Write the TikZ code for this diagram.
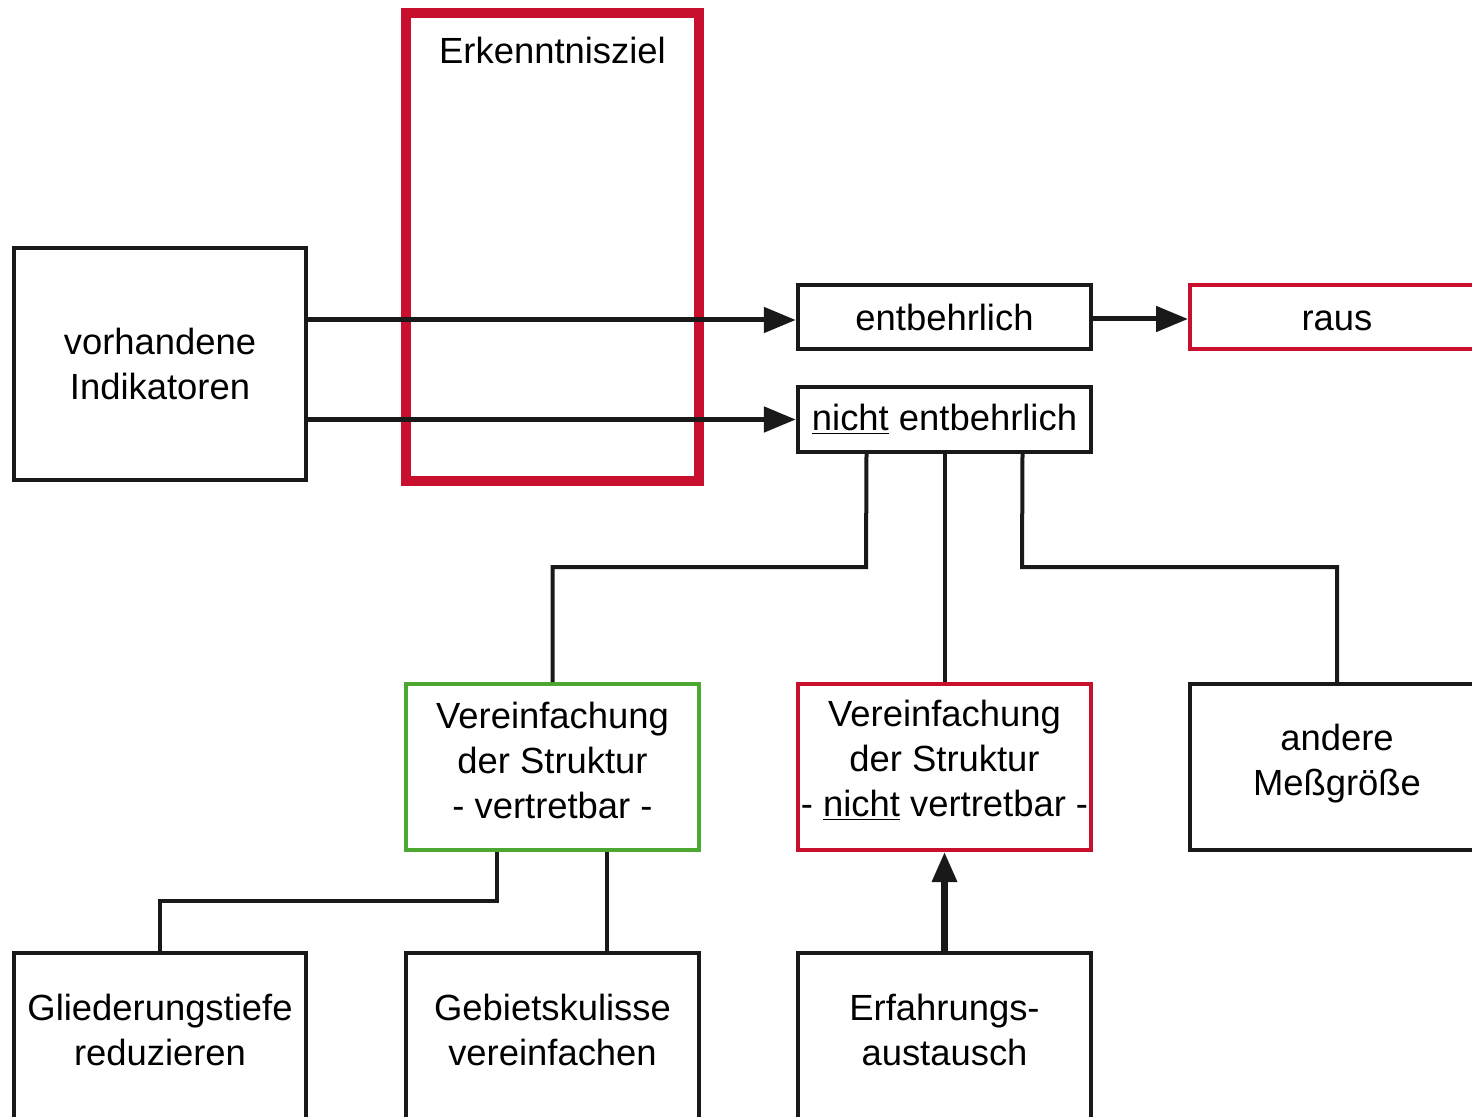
\documentclass[tikz,border=0pt]{standalone}
\usepackage{fontspec}
\setmainfont{Liberation Sans}
\usetikzlibrary{arrows.meta}
\definecolor{myred}{RGB}{200,16,46}
\definecolor{mygreen}{RGB}{76,168,50}
\tikzset{
  every node/.style={font=\fontsize{18.2}{22.5}\selectfont},
  box/.style={draw=black!90, line width=2.2pt, rectangle, inner sep=0pt, align=center, fill=white},
  redbox/.style={box, draw=myred},
  greenbox/.style={box, draw=mygreen},
  txt/.style={align=center, inner sep=0pt},
  conn/.style={draw=black!90, line width=2pt},
  arr/.style={draw=black!90, line width=2.5pt, -{Triangle[length=16pt,width=12.5pt]}},
  bigarr/.style={draw=black!90, line width=3.2pt, -{Triangle[length=15pt,width=12pt]}},
}
\begin{document}
\begin{tikzpicture}[x=0.5pt,y=-0.5pt]
\fill[white] (0,0) rectangle (1472,1117);
\useasboundingbox (0,0) rectangle (1472,1117);

% big red box
\node[box, draw=myred, line width=5pt, fill=none, minimum width=146.5pt, minimum height=234pt] (erk) at (552.5,247) {};
\node[txt] (erktxt) at (552.5,50) {Erkenntnisziel};

\node[box, minimum width=146pt, minimum height=116pt] (vorh) at (160,364) {vorhandene\\Indikatoren};
\node[box, minimum width=146.5pt, minimum height=32pt] (entb) at (944.5,317) {entbehrlich};
\node[box, minimum width=146.5pt, minimum height=32.5pt] (nent) at (944.5,419.5) {\underline{nicht} entbehrlich};
\node[redbox, line width=2pt, minimum width=147pt, minimum height=32pt] (raus) at (1337,317) {};
\node[txt] (raustxt) at (1337,321) {raus};

\node[greenbox, line width=2pt, minimum width=146.5pt, minimum height=83pt] (green) at (552.5,767) {};
\node[txt] (greentxt) at (552.5,760) {Vereinfachung\\der Struktur\\- vertretbar -};
\node[redbox, line width=2pt, minimum width=146.5pt, minimum height=83pt] (red2) at (944.5,767) {};
\node[txt] (red2txt) at (944.5,760) {Vereinfachung\\der Struktur\\- \underline{nicht} vertretbar -};
\node[box, minimum width=147pt, minimum height=83pt] (andere) at (1337,767) {};
\node[txt] (anderetxt) at (1337,764) {andere\\Meßgröße};

\node[box, anchor=north, minimum width=146pt, minimum height=125pt] (glied) at (160,951) {};
\node[box, anchor=north, minimum width=146.5pt, minimum height=125pt] (gebiet) at (552.5,951) {};
\node[box, anchor=north, minimum width=146.5pt, minimum height=125pt] (erf) at (944.5,951) {};
\node[txt] (gliedtxt) at (160,1030) {Gliederungstiefe\\reduzieren};
\node[txt] (gebiettxt) at (552.5,1030) {Gebietskulisse\\vereinfachen};
\node[txt] (erftxt) at (944.5,1030) {Erfahrungs-\\austausch};

% arrows
\coordinate (ein) at ([yshift=-1.5pt]entb.west);
\coordinate (eout) at ([yshift=-1pt]entb.east);
\coordinate (rin) at ([yshift=-1pt]raus.west);
\draw[arr] (vorh.east |- ein) -- (ein);
\draw[arr] (vorh.east |- nent.west) -- (nent.west);
\draw[arr] (eout) -- (rin);

% connectors
\coordinate (j1) at (866,567);
\coordinate (j2) at (1022,567);
\coordinate (j3) at (497,901);
\draw[conn] ([xshift=-39pt]nent.south) -- (j1) -| (green.north);
\draw[conn] (nent.south) -- (red2.north);
\draw[conn] ([xshift=39pt]nent.south) -- (j2) -| (andere.north);
\draw[conn] ([xshift=-27.75pt]green.south) -- (j3) -| (glied.north);
\draw[conn] ([xshift=27.25pt]green.south) -- ([xshift=27.25pt]gebiet.north);
\draw[bigarr] (erf.north) -- (red2.south);
\end{tikzpicture}
\end{document}
